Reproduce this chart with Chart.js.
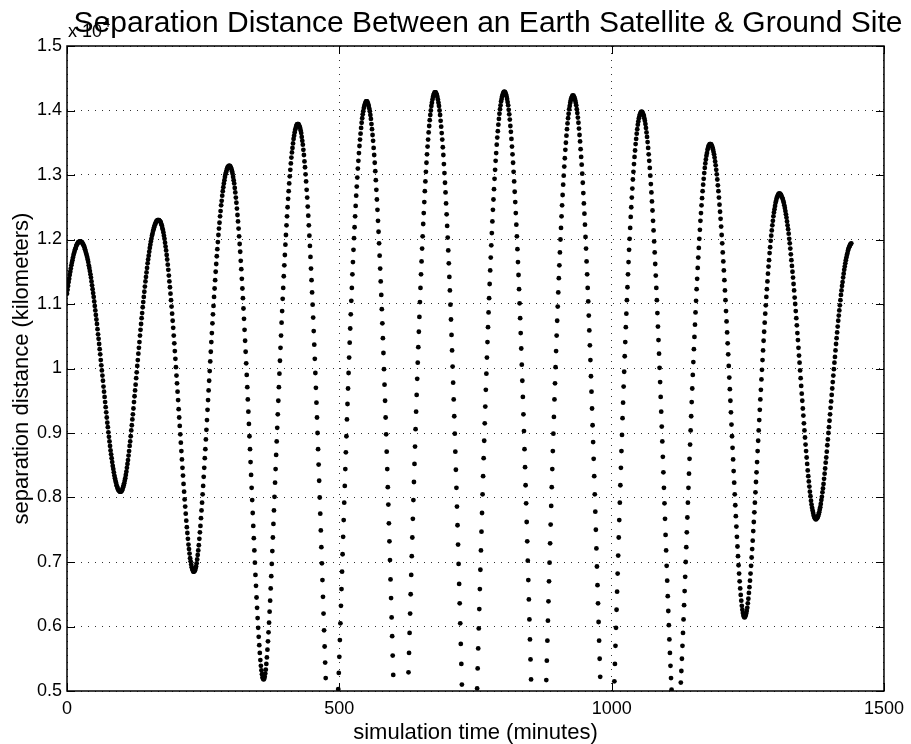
<!DOCTYPE html>
<html>
<head>
<meta charset="utf-8">
<script src="https://cdn.jsdelivr.net/npm/chart.js@4.4.0/dist/chart.umd.min.js"></script>
<style>
  html, body { margin: 0; padding: 0; background: #fff; }
  canvas { display: block; }
</style>
</head>
<body>
<canvas id="chart" width="911" height="744"></canvas>
<script>
// separation distance, in units of 10^4 km, one sample per minute starting at t = 0
// (null = below the bottom of the axes, not visible)
const separation = [
  1.116,1.122,1.128,1.134,1.139,1.145,1.150,1.155,1.160,1.164, // 0
  1.168,1.172,1.176,1.179,1.182,1.185,1.187,1.190,1.192,1.193,
  1.195,1.196,1.196,1.197,1.197,1.197,1.196,1.196,1.195,1.193,
  1.192,1.190,1.188,1.185,1.182,1.179,1.176,1.173,1.169,1.165,
  1.160,1.156,1.151,1.146,1.141,1.135,1.129,1.123,1.117,1.111,
  1.104,1.097,1.090,1.083,1.076,1.069,1.061,1.053,1.046,1.038,
  1.030,1.022,1.013,1.005,0.997,0.989,0.981,0.972,0.964,0.956,
  0.948,0.940,0.932,0.924,0.916,0.909,0.901,0.894,0.887,0.880,
  0.873,0.867,0.861,0.855,0.849,0.844,0.839,0.834,0.830,0.826,
  0.823,0.819,0.817,0.814,0.812,0.811,0.810,0.809,0.809,0.809,
  0.810,0.811,0.813,0.816,0.819,0.822,0.826,0.830,0.835,0.840, // 100
  0.846,0.852,0.858,0.865,0.872,0.880,0.887,0.895,0.904,0.912,
  0.921,0.929,0.938,0.948,0.957,0.966,0.975,0.985,0.994,1.004,
  1.013,1.023,1.032,1.041,1.051,1.060,1.069,1.078,1.086,1.095,
  1.103,1.111,1.119,1.127,1.135,1.142,1.149,1.156,1.163,1.169,
  1.175,1.181,1.187,1.192,1.197,1.201,1.206,1.209,1.213,1.216,
  1.219,1.222,1.224,1.226,1.228,1.229,1.230,1.230,1.230,1.230,
  1.229,1.228,1.227,1.224,1.222,1.218,1.215,1.211,1.206,1.201,
  1.195,1.189,1.183,1.176,1.169,1.161,1.153,1.144,1.135,1.126,
  1.116,1.106,1.096,1.085,1.074,1.063,1.051,1.039,1.027,1.015,
  1.002,0.989,0.977,0.964,0.951,0.937,0.924,0.911,0.898,0.885, // 200
  0.872,0.859,0.846,0.834,0.821,0.809,0.797,0.786,0.775,0.764,
  0.754,0.745,0.736,0.727,0.720,0.713,0.706,0.701,0.696,0.692,
  0.689,0.687,0.685,0.685,0.686,0.687,0.690,0.693,0.698,0.704,
  0.711,0.718,0.726,0.736,0.746,0.756,0.768,0.780,0.792,0.805,
  0.818,0.832,0.846,0.861,0.875,0.890,0.905,0.920,0.936,0.951,
  0.966,0.981,0.996,1.011,1.026,1.041,1.055,1.070,1.084,1.097,
  1.111,1.124,1.137,1.150,1.162,1.174,1.185,1.196,1.207,1.217,
  1.226,1.236,1.244,1.253,1.260,1.268,1.275,1.281,1.287,1.292,
  1.297,1.301,1.304,1.307,1.310,1.312,1.313,1.314,1.314,1.314,
  1.313,1.311,1.309,1.306,1.302,1.297,1.292,1.287,1.280,1.273, // 300
  1.265,1.257,1.248,1.238,1.228,1.217,1.205,1.193,1.181,1.167,
  1.154,1.139,1.124,1.109,1.093,1.077,1.060,1.043,1.026,1.008,
  0.990,0.971,0.952,0.933,0.914,0.895,0.875,0.855,0.835,0.815,
  0.796,0.776,0.756,0.737,0.718,0.699,0.680,0.663,0.645,0.629,
  0.613,0.598,0.584,0.571,0.559,0.548,0.539,0.532,0.526,0.521,
  0.519,0.518,0.519,0.522,0.527,0.533,0.542,0.552,0.564,0.577,
  0.591,0.606,0.623,0.640,0.659,0.678,0.697,0.717,0.738,0.759,
  0.780,0.801,0.823,0.844,0.866,0.887,0.908,0.929,0.950,0.971,
  0.992,1.012,1.032,1.051,1.071,1.089,1.108,1.125,1.143,1.160,
  1.176,1.192,1.207,1.222,1.236,1.250,1.263,1.275,1.287,1.298, // 400
  1.308,1.318,1.327,1.335,1.342,1.349,1.356,1.361,1.366,1.370,
  1.373,1.376,1.378,1.379,1.379,1.379,1.377,1.375,1.373,1.369,
  1.365,1.359,1.353,1.347,1.339,1.331,1.321,1.312,1.301,1.290,
  1.277,1.265,1.251,1.237,1.222,1.206,1.190,1.173,1.155,1.137,
  1.118,1.099,1.079,1.058,1.037,1.015,0.993,0.970,0.947,0.924,
  0.900,0.875,0.851,0.826,0.800,0.775,0.749,0.723,0.698,0.672,
  0.646,0.620,0.594,0.569,0.544,0.520,null,null,null,null,
  null,null,null,null,null,null,null,null,null,null,
  null,null,null,null,null,null,null,null,0.503,0.528,
  0.553,0.579,0.605,0.632,0.658,0.685,0.712,0.739,0.765,0.792, // 500
  0.818,0.844,0.870,0.895,0.921,0.945,0.969,0.993,1.017,1.040,
  1.062,1.084,1.105,1.125,1.146,1.165,1.184,1.202,1.219,1.236,
  1.252,1.268,1.282,1.296,1.310,1.322,1.334,1.345,1.355,1.364,
  1.373,1.381,1.388,1.394,1.399,1.404,1.407,1.410,1.412,1.414,
  1.414,1.414,1.412,1.410,1.407,1.403,1.399,1.393,1.387,1.379,
  1.371,1.362,1.353,1.342,1.331,1.319,1.306,1.292,1.277,1.262,
  1.246,1.229,1.212,1.194,1.175,1.155,1.135,1.114,1.092,1.070,
  1.047,1.024,0.999,0.975,0.950,0.924,0.898,0.871,0.844,0.816,
  0.789,0.760,0.732,0.703,0.673,0.644,0.614,0.585,0.555,0.525,
  null,null,null,null,null,null,null,null,null,null, // 600
  null,null,null,null,null,null,null,null,null,null,
  null,null,null,null,null,null,null,0.529,0.559,0.590,
  0.620,0.650,0.680,0.709,0.738,0.767,0.796,0.824,0.852,0.879,
  0.906,0.933,0.959,0.984,1.009,1.033,1.057,1.080,1.103,1.125,
  1.146,1.166,1.186,1.205,1.224,1.241,1.258,1.275,1.290,1.305,
  1.319,1.332,1.344,1.355,1.366,1.376,1.385,1.393,1.400,1.407,
  1.412,1.417,1.421,1.424,1.426,1.428,1.428,1.428,1.426,1.424,
  1.421,1.417,1.412,1.407,1.400,1.393,1.384,1.375,1.365,1.355,
  1.343,1.331,1.317,1.303,1.288,1.273,1.256,1.239,1.221,1.203,
  1.183,1.163,1.142,1.121,1.099,1.076,1.052,1.028,1.003,0.978, // 700
  0.952,0.926,0.899,0.871,0.843,0.815,0.786,0.757,0.727,0.697,
  0.666,0.636,0.605,0.573,0.542,0.510,null,null,null,null,
  null,null,null,null,null,null,null,null,null,null,
  null,null,null,null,null,null,null,null,null,null,
  null,null,null,0.504,0.535,0.566,0.597,0.627,0.658,0.688,
  0.718,0.747,0.776,0.805,0.833,0.861,0.888,0.915,0.941,0.967,
  0.992,1.017,1.041,1.064,1.087,1.109,1.131,1.152,1.172,1.191,
  1.210,1.228,1.246,1.262,1.278,1.294,1.308,1.322,1.334,1.347,
  1.358,1.368,1.378,1.387,1.395,1.402,1.408,1.414,1.418,1.422,
  1.425,1.427,1.429,1.429,1.429,1.427,1.425,1.422,1.418,1.413, // 800
  1.408,1.401,1.394,1.386,1.376,1.367,1.356,1.344,1.332,1.319,
  1.305,1.290,1.274,1.258,1.241,1.223,1.205,1.185,1.165,1.145,
  1.123,1.101,1.078,1.055,1.031,1.006,0.981,0.956,0.929,0.903,
  0.875,0.847,0.819,0.791,0.762,0.732,0.702,0.672,0.642,0.611,
  0.580,0.549,0.518,null,null,null,null,null,null,null,
  null,null,null,null,null,null,null,null,null,null,
  null,null,null,null,null,null,null,null,null,null,
  0.517,0.547,0.578,0.609,0.639,0.670,0.699,0.729,0.758,0.787,
  0.816,0.844,0.872,0.899,0.925,0.952,0.977,1.002,1.027,1.051,
  1.074,1.096,1.118,1.140,1.160,1.180,1.200,1.218,1.236,1.253, // 900
  1.269,1.285,1.299,1.313,1.326,1.339,1.350,1.361,1.371,1.380,
  1.388,1.395,1.402,1.407,1.412,1.416,1.419,1.421,1.423,1.423,
  1.423,1.421,1.419,1.416,1.412,1.408,1.402,1.396,1.389,1.381,
  1.372,1.362,1.352,1.340,1.328,1.316,1.302,1.288,1.272,1.256,
  1.240,1.223,1.204,1.186,1.166,1.146,1.125,1.104,1.082,1.059,
  1.036,1.013,0.988,0.964,0.938,0.912,0.886,0.860,0.833,0.805,
  0.778,0.750,0.721,0.693,0.664,0.636,0.607,0.578,0.550,0.522,
  null,null,null,null,null,null,null,null,null,null,
  null,null,null,null,null,null,null,null,null,null,
  null,null,null,null,null,0.515,0.542,0.570,0.598,0.626, // 1000
  0.654,0.682,0.710,0.738,0.765,0.792,0.819,0.846,0.872,0.897,
  0.923,0.947,0.972,0.995,1.019,1.041,1.064,1.085,1.106,1.126,
  1.146,1.165,1.184,1.201,1.218,1.235,1.250,1.265,1.279,1.293,
  1.305,1.317,1.328,1.338,1.348,1.356,1.364,1.371,1.378,1.383,
  1.388,1.391,1.394,1.396,1.398,1.398,1.398,1.396,1.394,1.392,
  1.388,1.384,1.379,1.373,1.366,1.359,1.351,1.342,1.332,1.322,
  1.311,1.299,1.286,1.273,1.259,1.245,1.229,1.214,1.197,1.180,
  1.162,1.144,1.125,1.106,1.086,1.065,1.044,1.023,1.001,0.979,
  0.956,0.933,0.910,0.887,0.863,0.839,0.815,0.791,0.767,0.742,
  0.718,0.694,0.671,0.647,0.624,0.602,0.580,0.559,0.539,0.520, // 1100
  0.502,null,null,null,null,null,null,null,null,null,
  null,null,null,null,null,null,null,0.513,0.531,0.550,
  0.570,0.590,0.611,0.633,0.655,0.677,0.700,0.723,0.746,0.769,
  0.792,0.815,0.837,0.860,0.882,0.904,0.926,0.948,0.969,0.990,
  1.010,1.030,1.049,1.068,1.087,1.105,1.123,1.139,1.156,1.172,
  1.187,1.201,1.215,1.229,1.241,1.253,1.264,1.275,1.285,1.294,
  1.303,1.311,1.318,1.324,1.330,1.334,1.339,1.342,1.345,1.346,
  1.348,1.348,1.348,1.347,1.345,1.343,1.340,1.336,1.332,1.327,
  1.321,1.315,1.308,1.301,1.293,1.284,1.275,1.265,1.254,1.243,
  1.232,1.220,1.207,1.194,1.180,1.166,1.152,1.137,1.121,1.106, // 1200
  1.089,1.073,1.056,1.039,1.022,1.004,0.986,0.968,0.950,0.932,
  0.913,0.895,0.877,0.859,0.841,0.823,0.805,0.788,0.771,0.755,
  0.739,0.724,0.709,0.695,0.682,0.670,0.659,0.649,0.640,0.632,
  0.626,0.621,0.617,0.615,0.614,0.615,0.617,0.620,0.624,0.629,
  0.636,0.643,0.652,0.661,0.671,0.682,0.694,0.707,0.720,0.733,
  0.748,0.762,0.777,0.792,0.808,0.824,0.839,0.855,0.872,0.888,
  0.904,0.920,0.936,0.952,0.967,0.983,0.998,1.013,1.028,1.043,
  1.057,1.071,1.085,1.098,1.111,1.123,1.135,1.147,1.158,1.168,
  1.179,1.188,1.198,1.206,1.214,1.222,1.229,1.236,1.242,1.247,
  1.252,1.257,1.260,1.264,1.266,1.268,1.270,1.271,1.271,1.271, // 1300
  1.270,1.269,1.267,1.265,1.263,1.260,1.257,1.253,1.249,1.244,
  1.239,1.234,1.228,1.222,1.216,1.209,1.201,1.194,1.186,1.177,
  1.168,1.159,1.150,1.141,1.131,1.121,1.110,1.100,1.089,1.078,
  1.067,1.055,1.044,1.032,1.020,1.009,0.997,0.985,0.973,0.961,
  0.950,0.938,0.927,0.915,0.904,0.893,0.882,0.872,0.862,0.852,
  0.842,0.833,0.825,0.817,0.809,0.802,0.795,0.789,0.784,0.780,
  0.776,0.772,0.770,0.768,0.767,0.766,0.767,0.768,0.769,0.771,
  0.774,0.777,0.781,0.785,0.790,0.796,0.801,0.808,0.814,0.821,
  0.829,0.837,0.845,0.854,0.862,0.871,0.881,0.890,0.900,0.909,
  0.919,0.929,0.939,0.949,0.959,0.969,0.979,0.989,0.999,1.009, // 1400
  1.018,1.028,1.038,1.047,1.056,1.065,1.074,1.082,1.090,1.098,
  1.106,1.114,1.121,1.128,1.134,1.141,1.147,1.153,1.158,1.163,
  1.168,1.172,1.176,1.179,1.183,1.186,1.188,1.190,1.192,1.193,
  1.194
];

// sample times (minutes) — one per minute
const sampleMinutes = separation.map((v, i) => i);

const timeTicks = [0, 500, 1000, 1500];
const distanceTicks = [0.5, 0.6, 0.7, 0.8, 0.9, 1, 1.1, 1.2, 1.3, 1.4, 1.5];

const titleText = 'Separation Distance Between an Earth Satellite & Ground Site';
const xLabel = 'simulation time (minutes)';
const yLabel = 'separation distance (kilometers)';

const fontFamily = '"Liberation Sans", Arial, Helvetica, sans-serif';
Chart.defaults.font.family = fontFamily;
Chart.defaults.color = '#000';

var points = [];
for (var i = 0; i < separation.length; i++) {
  if (separation[i] !== null) points.push({ x: sampleMinutes[i], y: separation[i] });
}

// box, inward ticks on all four sides, exponent label and the title
const matlabAxes = {
  id: 'matlabAxes',
  afterDatasetsDraw(chart) {
    const ctx = chart.ctx;
    const a = chart.chartArea;
    const xs = chart.scales.x, ys = chart.scales.y;
    ctx.save();
    ctx.strokeStyle = '#000';
    ctx.lineWidth = 1;
    ctx.beginPath();
    xs.ticks.forEach(t => {
      const px = Math.round(xs.getPixelForValue(t.value)) + 0.5;
      ctx.moveTo(px, a.bottom); ctx.lineTo(px, a.bottom - 8);
      ctx.moveTo(px, a.top); ctx.lineTo(px, a.top + 8);
    });
    ys.ticks.forEach(t => {
      const py = Math.round(ys.getPixelForValue(t.value)) + 0.5;
      ctx.moveTo(a.left, py); ctx.lineTo(a.left + 8, py);
      ctx.moveTo(a.right, py); ctx.lineTo(a.right - 8, py);
    });
    ctx.stroke();
    ctx.lineWidth = 1.5;
    ctx.strokeRect(a.left, a.top, a.right - a.left, a.bottom - a.top);

    ctx.fillStyle = '#000';
    ctx.textAlign = 'left';
    ctx.textBaseline = 'alphabetic';
    ctx.font = '18px ' + fontFamily;
    ctx.fillText('x 10', a.left + 1, a.top - 9);
    ctx.font = '13px ' + fontFamily;
    ctx.fillText('4', a.left + 36, a.top - 19);

    ctx.font = '30px ' + fontFamily;
    ctx.textAlign = 'center';
    ctx.fillText(titleText, 488, 32);
    ctx.restore();
  }
};

const chart = new Chart(document.getElementById('chart'), {
  type: 'scatter',
  data: {
    datasets: [{
      data: points,
      showLine: false,
      pointRadius: 2.4,
      pointHoverRadius: 2.4,
      pointBorderWidth: 0,
      pointBackgroundColor: '#000',
      borderColor: '#000'
    }]
  },
  options: {
    responsive: false,
    animation: false,
    devicePixelRatio: 1,
    events: [],
    layout: { padding: { top: 46, right: 23, left: 0, bottom: 0 } },
    plugins: {
      legend: { display: false },
      tooltip: { enabled: false },
      title: { display: false }
    },
    scales: {
      x: {
        type: 'linear',
        min: 0,
        max: 1500,
        afterBuildTicks: scale => { scale.ticks = timeTicks.map(v => ({ value: v })); },
        afterFit: scale => { scale.height = 53; },
        ticks: {
          padding: 7,
          maxRotation: 0,
          font: { size: 18 },
          callback: v => String(v)
        },
        grid: { color: '#333', lineWidth: 1, drawTicks: false },
        border: { display: false, dash: [1, 6] },
        title: {
          display: true,
          text: xLabel,
          font: { size: 22, lineHeight: 1 },
          padding: { top: 0, bottom: 0 }
        }
      },
      y: {
        type: 'linear',
        min: 0.5,
        max: 1.5,
        afterBuildTicks: scale => { scale.ticks = distanceTicks.map(v => ({ value: v })); },
        afterFit: scale => { scale.width = 67; },
        ticks: {
          padding: 5,
          font: { size: 18 },
          callback: v => String(v)
        },
        grid: { color: '#333', lineWidth: 1, drawTicks: false },
        border: { display: false, dash: [1, 6] },
        title: {
          display: true,
          text: yLabel,
          font: { size: 22 },
          padding: { top: 9, bottom: 0 }
        }
      }
    }
  },
  plugins: [matlabAxes]
});
</script>
</body>
</html>
